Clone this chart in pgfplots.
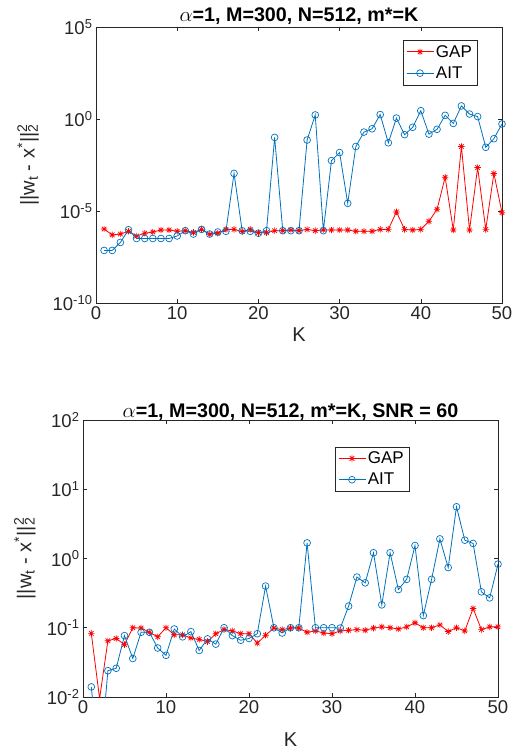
\documentclass[border=0pt]{standalone}
\usepackage{pgfplots}
\pgfplotsset{compat=1.18}
\usepackage{pgfplotstable}
\usepackage{fontspec}
\setmainfont{Liberation Sans}
\definecolor{mred}{rgb}{1,0,0}
\definecolor{mblue}{rgb}{0,0.447,0.741}
\definecolor{axgray}{rgb}{0.15,0.15,0.15}
\pgfdeclareplotmark{mstar}{%
  \pgfpathmoveto{\pgfqpoint{-\pgfplotmarksize}{0pt}}\pgfpathlineto{\pgfqpoint{\pgfplotmarksize}{0pt}}%
  \pgfpathmoveto{\pgfqpoint{0pt}{-\pgfplotmarksize}}\pgfpathlineto{\pgfqpoint{0pt}{\pgfplotmarksize}}%
  \pgfpathmoveto{\pgfqpoint{-0.707\pgfplotmarksize}{-0.707\pgfplotmarksize}}\pgfpathlineto{\pgfqpoint{0.707\pgfplotmarksize}{0.707\pgfplotmarksize}}%
  \pgfpathmoveto{\pgfqpoint{-0.707\pgfplotmarksize}{0.707\pgfplotmarksize}}\pgfpathlineto{\pgfqpoint{0.707\pgfplotmarksize}{-0.707\pgfplotmarksize}}%
  \pgfusepathqstroke}

\pgfplotstableread{
K gap ait
1 1.05e-6 7.2e-8
2 5.0e-7 7.2e-8
3 5.6e-7 1.95e-7
4 7.9e-7 9.5e-7
5 4.4e-7 3.2e-7
6 6.2e-7 3.2e-7
7 7.2e-7 3.2e-7
8 9.3e-7 3.2e-7
9 9.3e-7 3.2e-7
10 7.9e-7 4.4e-7
11 8.5e-7 8.5e-7
12 6.9e-7 5.6e-7
13 1.0e-6 1.0e-6
14 5.4e-7 5.6e-7
15 6.2e-7 7.2e-7
16 1.0e-6 7.9e-7
17 1.0e-6 1.1e-3
18 7.6e-7 8.5e-7
19 1.0e-6 7.9e-7
20 6.6e-7 6.2e-7
21 6.6e-7 8.5e-7
22 8.5e-7 0.1
23 8.5e-7 8.5e-7
24 9.3e-7 8.5e-7
25 8.5e-7 8.5e-7
26 1.0e-6 0.072
27 8.5e-7 1.66
28 9.3e-7 8.5e-7
29 9.3e-7 5.5e-3
30 9.3e-7 1.5e-2
31 9.3e-7 2.6e-5
32 7.9e-7 3.2e-2
33 7.9e-7 0.195
34 7.9e-7 0.295
35 1.0e-6 1.74
36 1.0e-6 0.051
37 8.9e-6 1.12
38 1.0e-6 0.141
39 9.3e-7 0.355
40 1.0e-6 2.82
41 2.75e-6 0.151
42 1.23e-5 0.275
43 6.8e-4 1.58
44 9.3e-7 0.575
45 3.2e-2 5.13
46 9.3e-7 1.86
47 2.3e-3 1.35
48 1.0e-6 0.029
49 1.1e-3 0.085
50 8.1e-6 0.537
}\toptable

\pgfplotstableread{
K gap ait
1 0.083 0.014
2 0.0095 0.001
3 0.065 0.024
4 0.070 0.026
5 0.057 0.077
6 0.10 0.036
7 0.099 0.086
8 0.086 0.086
9 0.074 0.051
10 0.10 0.040
11 0.079 0.096
12 0.079 0.074
13 0.071 0.088
14 0.068 0.047
15 0.063 0.069
16 0.082 0.058
17 0.094 0.10
18 0.090 0.077
19 0.082 0.066
20 0.082 0.070
21 0.060 0.082
22 0.078 0.40
23 0.099 0.10
24 0.094 0.084
25 0.099 0.10
26 0.099 0.10
27 0.086 1.68
28 0.090 0.10
29 0.084 0.10
30 0.082 0.10
31 0.090 0.099
32 0.092 0.205
33 0.094 0.54
34 0.092 0.445
35 0.099 1.21
36 0.103 0.214
37 0.100 1.21
38 0.096 0.356
39 0.103 0.50
40 0.118 1.54
41 0.100 0.15
42 0.100 0.50
43 0.110 1.92
44 0.088 0.74
45 0.100 5.58
46 0.090 1.84
47 0.190 1.65
48 0.094 0.33
49 0.103 0.27
50 0.103 0.83
}\bottable

\pgfplotsset{
  mstyle/.style={
    scale only axis,
    xmin=0, xmax=50,
    xtick={0,10,20,30,40,50},
    log basis y=10,
    axis line style={axgray, line width=0.6pt},
    tick style={axgray, line width=0.6pt},
    major tick length=4pt,
    minor tick length=2.5pt,
    tick align=inside,
    tick pos=both,
    /pgf/number format/assume math mode=true,
    tick label style={font=\fontsize{18.5}{18.5}\selectfont, text=axgray},
    title style={font=\fontsize{19.7}{19.7}\selectfont\bfseries},
    label style={font=\fontsize{20}{20}\selectfont, text=axgray},
    legend style={font=\fontsize{17}{17}\selectfont, draw=axgray, fill=white,
      inner xsep=3pt, inner ysep=3pt, row sep=4pt, cells={anchor=west}},
    legend image code/.code={\draw[##1, mark repeat=2, mark phase=2] plot coordinates {(0pt,0pt) (13.5pt,0pt) (27pt,0pt)};},
    ylabel={||w\textsubscript{t} - x\textsuperscript{*}||\rlap{\textsuperscript{2}}\textsubscript{2}},
    xlabel={K},
  },
  gapstyle/.style={color=mred, line width=0.8pt, mark=mstar, mark size=3.2pt, mark options={line width=0.7pt}},
  aitstyle/.style={color=mblue, line width=0.8pt, mark=o, mark size=3.4pt, mark options={line width=0.7pt}},
}

\begin{document}
\begin{tikzpicture}
\useasboundingbox (0pt,0pt) rectangle (512pt,753pt);
\begin{axis}[mstyle,
  at={(96pt,450pt)}, anchor=south west,
  width=406pt, height=276pt,
  ymode=log, ymin=1e-10, ymax=1e5,
  ytick={1e-10,1e-5,1,1e5},
  yticklabels={10\textsuperscript{-10},10\textsuperscript{-5},10\textsuperscript{0},10\textsuperscript{5}},
  yminorticks=false,
  title={$\alpha$=1, M=300, N=512, m*=K},
  title style={at={(axis description cs:0.5,1)}, anchor=base, yshift=-0.5pt},
  ylabel style={at={(axis description cs:-0.167,0.5)}, anchor=center},
  xlabel style={at={(axis description cs:0.5,-0.115)}, anchor=center},
  legend style={at={(axis description cs:0.756,0.953)}, anchor=north west},
]
\addplot[gapstyle] table[x=K, y=gap] {\toptable};
\addlegendentry{GAP}
\addplot[aitstyle] table[x=K, y=ait] {\toptable};
\addlegendentry{AIT}
\end{axis}

\begin{axis}[mstyle,
  at={(83pt,56pt)}, anchor=south west,
  width=415pt, height=277pt,
  ymode=log, ymin=1e-2, ymax=1e2,
  ytick={1e-2,1e-1,1,1e1,1e2},
  yticklabels={10\textsuperscript{-2},10\textsuperscript{-1},10\textsuperscript{0},10\textsuperscript{1},10\textsuperscript{2}},
  title={$\alpha$=1, M=300, N=512, m*=K, SNR = 60},
  title style={at={(axis description cs:0.5,1)}, anchor=base, yshift=-3pt},
  ylabel style={at={(axis description cs:-0.14,0.5)}, anchor=center},
  xlabel style={at={(axis description cs:0.5,-0.155)}, anchor=center},
  legend style={at={(axis description cs:0.607,0.904)}, anchor=north west},
]
\addplot[gapstyle] table[x=K, y=gap] {\bottable};
\addlegendentry{GAP}
\addplot[aitstyle] table[x=K, y=ait] {\bottable};
\addlegendentry{AIT}
\end{axis}
\end{tikzpicture}
\end{document}
